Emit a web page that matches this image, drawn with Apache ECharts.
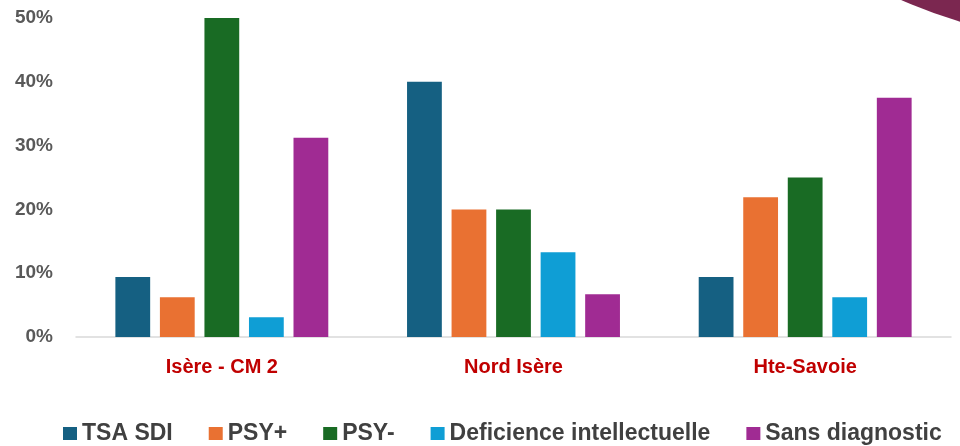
<!DOCTYPE html>
<html>
<head>
<meta charset="utf-8">
<script src="https://cdn.jsdelivr.net/npm/echarts@6/dist/echarts.min.js"></script>
<style>
html, body { margin: 0; padding: 0; background: #fff; }
#container { width: 960px; height: 446px; }
</style>
</head>
<body>
<div id="container"></div>
<script>
var categories = ['Isère - CM 2', 'Nord Isère', 'Hte-Savoie'];
var seriesNames = ['TSA SDI', 'PSY+', 'PSY-', 'Deficience intellectuelle', 'Sans diagnostic'];
var tsaSdi = [9.4, 40, 9.4];
var psyPlus = [6.25, 20, 21.9];
var psyMinus = [50, 20, 25];
var deficience = [3.1, 13.3, 6.25];
var sansDiag = [31.25, 6.7, 37.5];
var colors = ['#156082', '#E97132', '#196B24', '#0F9ED5', '#A02B93'];
var yTicks = [0, 50, 10];

var dom = document.getElementById('container');
var myChart = echarts.init(dom);

var values = [tsaSdi, psyPlus, psyMinus, deficience, sansDiag];
var series = seriesNames.map(function (name, i) {
    return {
        name: name,
        type: 'bar',
        data: values[i],
        barGap: '28%',
        barCategoryGap: '27%',
        itemStyle: { color: colors[i] }
    };
});

var option = {
    animation: false,
    color: colors,
    textStyle: { fontFamily: 'Liberation Sans' },
    grid: { left: 76, right: 9, top: 18, bottom: 109 },
    legend: {
        data: seriesNames,
        left: 58,
        top: 417,
        selectedMode: false,
        icon: 'rect',
        itemWidth: 14,
        itemHeight: 13,
        itemGap: 36,
        textStyle: {
            color: '#404040',
            fontSize: 23,
            fontWeight: 'bold',
            fontFamily: 'Liberation Sans'
        }
    },
    xAxis: {
        type: 'category',
        data: categories,
        axisTick: { show: false },
        axisLine: { lineStyle: { color: '#D9D9D9', width: 1.5 } },
        axisLabel: {
            color: '#C00000',
            fontSize: 20,
            fontWeight: 'bold',
            margin: 20
        }
    },
    yAxis: {
        type: 'value',
        min: yTicks[0],
        max: yTicks[1],
        interval: yTicks[2],
        splitLine: { show: false },
        axisLine: { show: false },
        axisTick: { show: false },
        axisLabel: {
            formatter: '{value}%',
            color: '#595959',
            fontSize: 19,
            fontWeight: 'bold',
            margin: 23
        }
    },
    graphic: [{
        type: 'circle',
        shape: { cx: 1100, cy: -450, r: 492 },
        style: { fill: '#7B2750' },
        silent: true
    }],
    series: series
};

myChart.setOption(option, true);
</script>
</body>
</html>
